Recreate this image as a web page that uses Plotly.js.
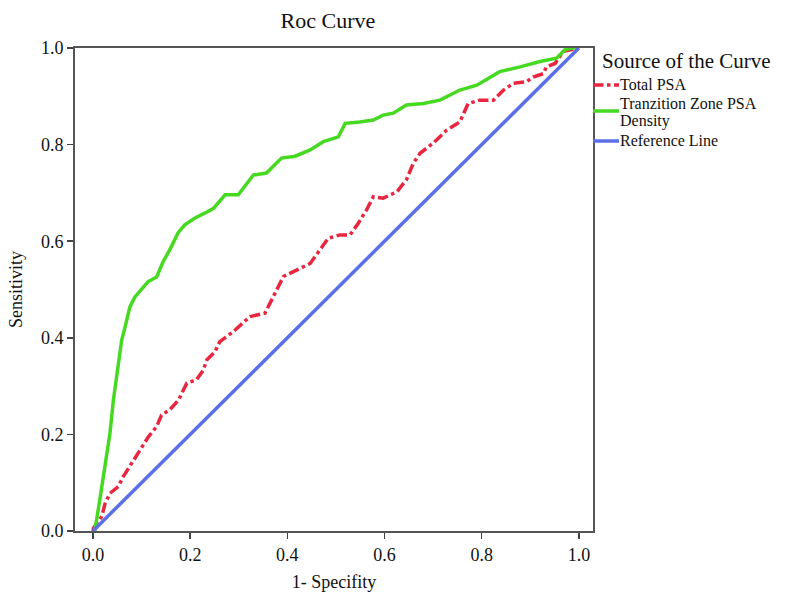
<!DOCTYPE html>
<html>
<head>
<meta charset="utf-8">
<script src="https://cdn.plot.ly/plotly-3.0.1.min.js"></script>
<style>html,body{margin:0;padding:0;background:#fff;}</style>
</head>
<body>
<div id="chart" style="width:794px;height:609px;"></div>
<script>
// Total PSA ROC curve
const totalX = [0, 0.001, 0.018, 0.025, 0.035, 0.052, 0.062, 0.080, 0.097, 0.114, 0.131, 0.141, 0.158, 0.176, 0.193, 0.213, 0.227, 0.234, 0.251, 0.261, 0.289, 0.323, 0.354, 0.371, 0.392, 0.419, 0.447, 0.467, 0.484, 0.508, 0.529, 0.546, 0.563, 0.577, 0.597, 0.625, 0.645, 0.659, 0.673, 0.700, 0.728, 0.755, 0.772, 0.796, 0.824, 0.845, 0.865, 0.892, 0.906, 0.927, 0.933, 0.951, 0.968, 1.0];
const totalY = [0, 0.006, 0.030, 0.057, 0.078, 0.092, 0.112, 0.140, 0.168, 0.195, 0.216, 0.240, 0.251, 0.271, 0.306, 0.313, 0.333, 0.354, 0.371, 0.392, 0.413, 0.444, 0.451, 0.485, 0.527, 0.540, 0.554, 0.582, 0.606, 0.613, 0.613, 0.637, 0.665, 0.692, 0.689, 0.702, 0.727, 0.761, 0.782, 0.803, 0.830, 0.847, 0.885, 0.892, 0.892, 0.913, 0.927, 0.930, 0.940, 0.947, 0.961, 0.968, 0.993, 1.0];

// Transition Zone PSA Density ROC curve
const tzX = [0, 0.004, 0.014, 0.025, 0.035, 0.042, 0.052, 0.059, 0.066, 0.076, 0.086, 0.103, 0.113, 0.131, 0.144, 0.158, 0.175, 0.189, 0.210, 0.230, 0.248, 0.272, 0.299, 0.330, 0.357, 0.388, 0.416, 0.447, 0.474, 0.505, 0.519, 0.549, 0.577, 0.597, 0.618, 0.645, 0.680, 0.714, 0.755, 0.790, 0.837, 0.879, 0.920, 0.954, 0.971, 0.985, 1.0];
const tzY = [0, 0.002, 0.064, 0.133, 0.203, 0.271, 0.340, 0.395, 0.422, 0.464, 0.484, 0.505, 0.516, 0.526, 0.557, 0.582, 0.617, 0.634, 0.648, 0.658, 0.668, 0.696, 0.696, 0.737, 0.741, 0.772, 0.776, 0.789, 0.806, 0.816, 0.844, 0.847, 0.851, 0.861, 0.865, 0.882, 0.885, 0.892, 0.913, 0.923, 0.951, 0.961, 0.972, 0.979, 0.996, 1.0, 1.0];

// Reference (diagonal) line
const refX = [0, 1];
const refY = [0, 1];

const seriesNames = ["Total PSA", "Tranzition Zone PSA Density", "Reference Line"];
const legendTitle = "Source of the Curve";
const tickVals = [0, 0.2, 0.4, 0.6, 0.8, 1.0];
const tickText = ["0.0", "0.2", "0.4", "0.6", "0.8", "1.0"];

const FONT = "Liberation Serif, DejaVu Serif, serif";
const COLORS = ["#e8263f", "#46d921", "#5b6fe8"];
const DASHES = ["dashdot", "solid", "solid"];

const traces = [
  {x: totalX, y: totalY, name: seriesNames[0], mode: "lines",
   line: {color: COLORS[0], width: 3.5, dash: DASHES[0]}},
  {x: tzX, y: tzY, name: seriesNames[1], mode: "lines",
   line: {color: COLORS[1], width: 3.5}},
  {x: refX, y: refY, name: seriesNames[2], mode: "lines",
   line: {color: COLORS[2], width: 3.5}}
];

// custom compact legend (as in the original SPSS output)
const plotL = 75, plotW = 518, plotB = 531, plotH = 483;
const px2x = p => (p - plotL) / plotW;
const py2y = p => (plotB - p) / plotH;

const legendRows = [
  {swatchY: 85, lines: [[seriesNames[0], 84]]},
  {swatchY: 111, lines: [["Tranzition Zone PSA", 103], ["Density", 121]]},
  {swatchY: 141, lines: [[seriesNames[2], 140]]}
];

const shapes = [];
const annotations = [{
  xref: "paper", yref: "paper", x: px2x(600), y: py2y(61),
  xanchor: "left", yanchor: "middle", showarrow: false, text: legendTitle,
  font: {family: FONT, size: 21, color: "#111"}
}];
legendRows.forEach((r, i) => {
  shapes.push({type: "line", xref: "paper", yref: "paper",
    x0: px2x(593), x1: px2x(619), y0: py2y(r.swatchY), y1: py2y(r.swatchY),
    line: {color: COLORS[i], width: 3.5, dash: DASHES[i]}});
  r.lines.forEach(([t, cy]) => {
    annotations.push({xref: "paper", yref: "paper", x: px2x(619), y: py2y(cy),
      xanchor: "left", yanchor: "middle", showarrow: false, text: t,
      borderpad: 0, font: {family: FONT, size: 16, color: "#111"}});
  });
});

const layout = {
  width: 794, height: 609,
  margin: {l: 75, r: 201, t: 48, b: 78},
  paper_bgcolor: "#fff", plot_bgcolor: "#fff",
  font: {family: FONT, size: 18, color: "#111"},
  title: {text: "Roc Curve", x: 0.413, xanchor: "center", y: 0.966, yanchor: "middle",
          font: {family: FONT, size: 22, color: "#111"}},
  xaxis: {
    range: [-0.037, 1.029], tickvals: tickVals, ticktext: tickText,
    ticks: "outside", ticklen: 6, tickwidth: 1.5, tickcolor: "#444",
    showline: true, linecolor: "#555", linewidth: 2, mirror: true,
    showgrid: false, zeroline: false,
    tickfont: {family: FONT, size: 18, color: "#111"},
    title: {text: "1- Specifity", standoff: 12, font: {family: FONT, size: 18, color: "#111"}}
  },
  yaxis: {
    range: [0, 1], tickvals: tickVals, ticktext: tickText,
    ticks: "outside", ticklen: 6, tickwidth: 1.5, tickcolor: "#444",
    showline: true, linecolor: "#555", linewidth: 2, mirror: true,
    showgrid: false, zeroline: false,
    tickfont: {family: FONT, size: 18, color: "#111"},
    title: {text: "Sensitivity", standoff: 14, font: {family: FONT, size: 18, color: "#111"}}
  },
  showlegend: false,
  shapes: shapes,
  annotations: annotations
};

Plotly.newPlot("chart", traces, layout, {displayModeBar: false, staticPlot: true});
</script>
</body>
</html>
